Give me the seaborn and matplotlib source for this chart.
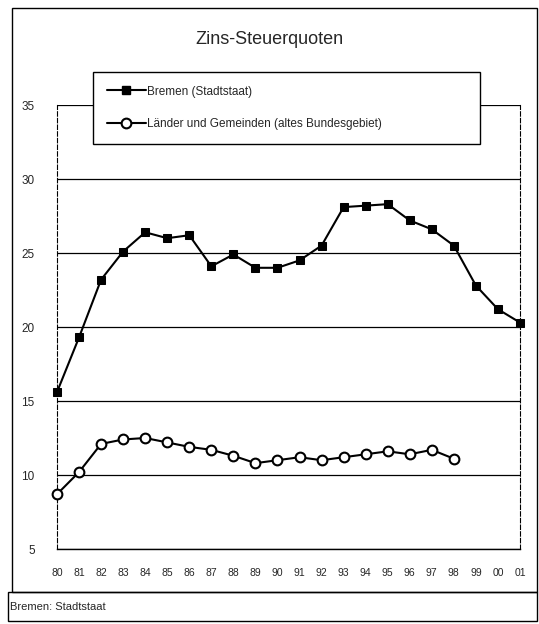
import pandas as pd
import matplotlib.pyplot as plt
import seaborn as sns
from matplotlib.patches import Rectangle
from matplotlib.lines import Line2D

# Stil
sns.set_style("white")
plt.rcParams['font.family'] = ['Liberation Sans', 'DejaVu Sans']

# Daten
jahre = ['80', '81', '82', '83', '84', '85', '86', '87', '88', '89', '90',
         '91', '92', '93', '94', '95', '96', '97', '98', '99', '00', '01']
bremen = [15.6, 19.3, 23.2, 25.1, 26.4, 26.0, 26.2, 24.1, 24.9, 24.0, 24.0,
          24.5, 25.5, 28.1, 28.2, 28.3, 27.2, 26.6, 25.5, 22.8, 21.2, 20.3]
laender = [8.7, 10.2, 12.1, 12.4, 12.5, 12.2, 11.9, 11.7, 11.3, 10.8, 11.0,
           11.2, 11.0, 11.2, 11.4, 11.6, 11.4, 11.7, 11.1]
y_ticks = [5, 10, 15, 20, 25, 30, 35]

df_b = pd.DataFrame({'pos': range(len(bremen)), 'wert': bremen})
df_l = pd.DataFrame({'pos': range(len(laender)), 'wert': laender})

fig = plt.figure(figsize=(5.39, 6.24), dpi=100)
ax = fig.add_axes([57 / 539, 1 - 549 / 624, 463 / 539, 444 / 624])

# Gitterlinien
for yv in y_ticks:
    ax.axhline(yv, color='black', lw=0.9, zorder=1)

sns.lineplot(data=df_b, x='pos', y='wert', ax=ax, color='black', lw=1.5,
             marker='s', markersize=6, markerfacecolor='black',
             markeredgecolor='black', clip_on=False, zorder=3)
sns.lineplot(data=df_l, x='pos', y='wert', ax=ax, color='black', lw=1.5,
             marker='o', markersize=7, markerfacecolor='white',
             markeredgecolor='black', markeredgewidth=1.5, clip_on=False, zorder=3)

ax.set_xlim(0, len(jahre) - 1)
ax.set_ylim(5, 35)
ax.set_xticks(range(len(jahre)))
ax.set_xticklabels(jahre)
ax.set_yticks(y_ticks)
ax.set_xlabel('')
ax.set_ylabel('')
ax.tick_params(axis='x', labelsize=7.5, length=3, direction='inout', pad=12, width=0.8)
ax.tick_params(axis='y', labelsize=8.5, length=0, pad=16)
for side in ['left', 'right']:
    ax.spines[side].set_linestyle((0, (4, 2)))
    ax.spines[side].set_linewidth(0.8)
ax.spines['top'].set_visible(False)
ax.spines['bottom'].set_linewidth(1.0)
for sp in ax.spines.values():
    sp.set_color('black')

# Legende
handles = [
    Line2D([], [], color='black', lw=1.5, marker='s', markersize=6,
           markerfacecolor='black'),
    Line2D([], [], color='black', lw=1.5, marker='o', markersize=7,
           markerfacecolor='white', markeredgewidth=1.5),
]
leg = fig.legend(handles, ['Bremen (Stadtstaat)',
                           'Länder und Gemeinden (altes Bundesgebiet)'],
                 loc='upper left', bbox_to_anchor=(93 / 539, 1 - 72 / 624, 387 / 539, 0),
                 mode='expand', fontsize=8.5, handlelength=3.3, handletextpad=0.1,
                 labelspacing=1.75, borderpad=1.15, borderaxespad=0,
                 fancybox=False, framealpha=1, edgecolor='black')
leg.get_frame().set_linewidth(1.0)
leg.set_zorder(5)
leg._legend_box.align = 'left'

# Titel
fig.text(0.5, 1 - 40 / 624, 'Zins-Steuerquoten', ha='center', va='center', fontsize=13)

# Rahmen
fig.patches.append(Rectangle((12 / 539, 1 - 592 / 624), 525 / 539, 584 / 624,
                             transform=fig.transFigure, fill=False,
                             edgecolor='black', lw=1.0))
fig.patches.append(Rectangle((8 / 539, 1 - 621 / 624), 529 / 539, 29 / 624,
                             transform=fig.transFigure, fill=False,
                             edgecolor='black', lw=1.0))
fig.text(10 / 539, 1 - 607 / 624, 'Bremen: Stadtstaat', ha='left', va='center', fontsize=8)

fig.savefig('out.png', dpi=100)
